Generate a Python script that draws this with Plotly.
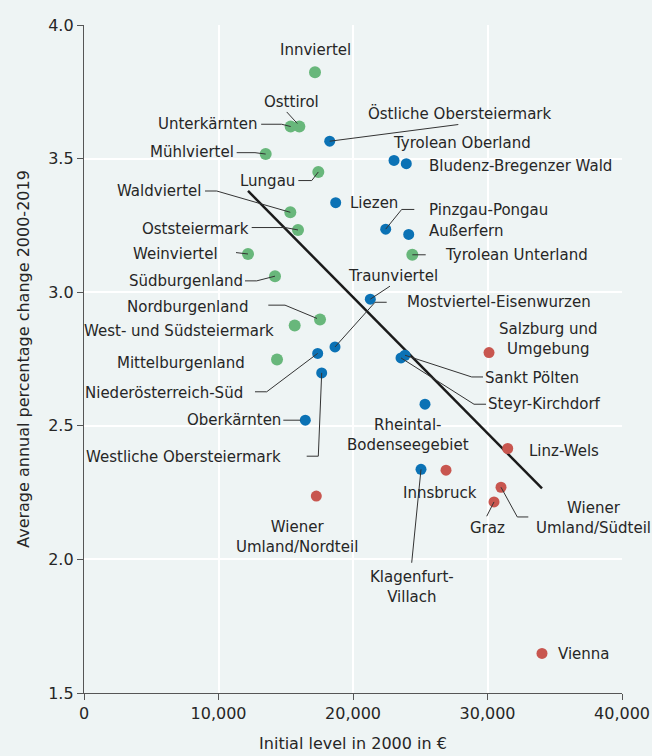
import plotly.graph_objects as go

# ---------------- data ----------------
regions = [
    "Innviertel", "Osttirol", "Unterkärnten", "Mühlviertel", "Lungau", "Waldviertel",
    "Oststeiermark", "Weinviertel", "Südburgenland", "Nordburgenland",
    "West- und Südsteiermark", "Mittelburgenland", "Tyrolean Unterland",
    "Östliche Obersteiermark", "Tyrolean Oberland", "Bludenz-Bregenzer Wald", "Liezen",
    "Pinzgau-Pongau", "Außerfern", "Traunviertel", "Mostviertel-Eisenwurzen",
    "Niederösterreich-Süd", "Westliche Obersteiermark", "Oberkärnten", "Sankt Pölten",
    "Steyr-Kirchdorf", "Rheintal-Bodenseegebiet", "Klagenfurt-Villach",
    "Salzburg und Umgebung", "Linz-Wels", "Innsbruck", "Wiener Umland/Südteil", "Graz",
    "Wiener Umland/Nordteil", "Vienna",
]
initial_level = [
    17175, 16010, 15366, 13508, 17422, 15340,
    15911, 12193, 14201, 17547,
    15665, 14350, 24410,
    18268, 23049, 23963, 18714,
    22431, 24141, 21287, 18662,
    17375, 17673, 16454, 23866,
    23569, 25353, 25056,
    30112, 31502, 26915, 31004, 30484,
    17272, 34052,
]
growth = [
    3.823, 3.620, 3.620, 3.517, 3.450, 3.299,
    3.233, 3.143, 3.060, 2.898,
    2.875, 2.748, 3.140,
    3.565, 3.493, 3.481, 3.335,
    3.236, 3.216, 2.974, 2.795,
    2.771, 2.698, 2.521, 2.764,
    2.754, 2.581, 2.337,
    2.774, 2.415, 2.334, 2.270, 2.215,
    2.237, 1.648,
]
group = (["rural"] * 13) + (["intermediate"] * 15) + (["urban"] * 7)

trend_x = [12193, 34052]
trend_y = [3.379, 2.266]

x_ticks = [0, 10000, 20000, 30000, 40000]
y_ticks = [1.5, 2.0, 2.5, 3.0, 3.5, 4.0]

# ---------------- styles ----------------
colors = {"rural": "#68b77b", "intermediate": "#0b72b5", "urban": "#c8564f"}
sizes = {"rural": 12, "intermediate": 11, "urban": 11}
BG = "#eef4f4"
TXT = "#262626"
FONT = "DejaVu Sans"

# label placement: (xanchor, dx, dy, leader polyline in screen px offsets from the point)
label_layout = {
    "Innviertel": ("center", 0, -22, None),
    "Osttirol": ("center", -8, -25, [(-12.6, -14.6), (-2, -3)]),
    "Unterkärnten": ("right", -31.4, -2.3, [(-29.5, -2.3), (-9, -2.3), (0, 0)]),
    "Mühlviertel": ("right", -29.7, -1.7, [(-29, -1.4), (-10.7, -1.4), (0, 0)]),
    "Lungau": ("right", -21.6, 8.6, [(-20, 8.6), (-6.6, 8.6), (0, 0)]),
    "Waldviertel": ("right", -87, -21.3, [(-85.3, -21.3), (-73.6, -21.3), (0, 0)]),
    "Oststeiermark": ("right", -47.3, -1, [(-46.3, -2.4), (-13, -2.4), (0, 0)]),
    "Weinviertel": ("right", -28, 0, [(-12, -1.4), (0, 0)]),
    "Südburgenland": ("right", -30, 4.7, [(-30, 4.7), (-18.3, 4.7), (0, 0)]),
    "Nordburgenland": ("right", -70, -12.6, [(-51.7, -14.3), (-35, -14.3), (-3, -1)]),
    "West- und Südsteiermark": ("right", -18.7, 5.4, None),
    "Mittelburgenland": ("right", -29.7, 3.4, None),
    "Tyrolean Unterland": ("left", 31, 0.3, [(0, 0), (13.4, 0)]),
    "Östliche Obersteiermark": ("left", 36, -27.7, [(128.6, -16.7), (0, 0)]),
    "Tyrolean Oberland": ("left", -3, -17.6, None),
    "Bludenz-Bregenzer Wald": ("left", 20.4, 2.4, None),
    "Liezen": ("left", 12.6, 0, None),
    "Pinzgau-Pongau": ("left", 41, -19, [(28.6, -19.7), (16, -19.7), (0, 0)]),
    "Außerfern": ("left", 18, -3.3, None),
    "Traunviertel": ("left", -24.3, -23, [(19.7, -13), (0, 0)]),
    "Mostviertel-Eisenwurzen": ("left", 70, -44.7, [(51.7, -44.7), (40, -44.7), (0, 0)]),
    "Niederösterreich-Süd": ("right", -72.4, 39.4, [(-62.7, 38.4), (-51, 38.4), (0, 0)]),
    "Westliche Obersteiermark": ("right", -38.4, 84.6, [(-15, 83.3), (-3.4, 83.3), (0, 0)]),
    "Oberkärnten": ("right", -22.6, 0.3, [(-22, 0), (-5, 0)]),
    "Sankt Pölten": ("left", 78.3, 22.7, [(78, 21.7), (66.7, 21.7), (0, 0)]),
    "Steyr-Kirchdorf": ("left", 85, 46.3, [(85, 46.3), (73, 46.3), (0, 0)]),
    "Rheintal-Bodenseegebiet": ("center", -17.3, 31.3, None),
    "Klagenfurt-Villach": ("center", -9.3, 117.2, [(-9.3, 93.4), (0, 0)]),
    "Salzburg und Umgebung": ("center", 59.3, -13.6, None),
    "Linz-Wels": ("left", 19, 2.4, None),
    "Innsbruck": ("center", -6, 23.3, None),
    "Wiener Umland/Südteil": ("center", 92, 30.8, [(27.3, 29.7), (16.3, 29.7), (0, 0)]),
    "Graz": ("center", -7, 25.6, [(-7.3, 14.3), (0, 0)]),
    "Wiener Umland/Nordteil": ("center", -19.8, 40.7, None),
    "Vienna": ("left", 14, 0.7, None),
}
display_text = {
    "Rheintal-Bodenseegebiet": "Rheintal-<br>Bodenseegebiet",
    "Klagenfurt-Villach": "Klagenfurt-<br>Villach",
    "Salzburg und Umgebung": "Salzburg und<br>Umgebung",
    "Wiener Umland/Südteil": "Wiener<br>Umland/Südteil",
    "Wiener Umland/Nordteil": "Wiener<br>Umland/Nordteil",
}

fig = go.Figure()

# trend line
fig.add_trace(go.Scatter(x=trend_x, y=trend_y, mode="lines",
                         line=dict(color="#1a1a1a", width=2.5), hoverinfo="skip",
                         showlegend=False))

# points per group
for g in ["rural", "intermediate", "urban"]:
    xs = [x for x, gg in zip(initial_level, group) if gg == g]
    ys = [y for y, gg in zip(growth, group) if gg == g]
    ns = [n for n, gg in zip(regions, group) if gg == g]
    fig.add_trace(go.Scatter(x=xs, y=ys, mode="markers", text=ns,
                             marker=dict(color=colors[g], size=sizes[g], line=dict(width=0)),
                             showlegend=False))

annotations = []
shapes = []
for name, xv, yv in zip(regions, initial_level, growth):
    xa, dx, dy, leader = label_layout[name]
    annotations.append(dict(
        x=xv, y=yv, xref="x", yref="y", text=display_text.get(name, name),
        showarrow=False, xanchor=xa, yanchor="middle", xshift=dx, yshift=-dy,
        font=dict(family=FONT, size=15, color=TXT),
    ))
    if leader:
        path = "M " + " L ".join(f"{px},{-py}" for px, py in leader)
        shapes.append(dict(type="path", xref="x", yref="y", xsizemode="pixel",
                           ysizemode="pixel", xanchor=xv, yanchor=yv, path=path,
                           line=dict(color="#333333", width=1), layer="above"))

fig.update_layout(
    width=652, height=756,
    margin=dict(l=84, r=30, t=25, b=63),
    paper_bgcolor=BG, plot_bgcolor=BG,
    font=dict(family=FONT, color=TXT, size=16),
    annotations=annotations, shapes=shapes,
    showlegend=False,
)
fig.update_xaxes(range=[0, 40000], tickvals=x_ticks, tickformat=",", automargin=False,
                 showgrid=True, gridcolor="white", gridwidth=1.5, zeroline=False,
                 showline=True, linecolor="#555555", linewidth=1.3,
                 ticks="outside", ticklen=6, tickcolor="#555555",
                 tickfont=dict(size=16, color=TXT),
                 title=dict(text="Initial level in 2000 in €", font=dict(size=16, color=TXT), standoff=15))
fig.update_yaxes(range=[1.5, 4.0], tickvals=y_ticks, tickformat=".1f", automargin=False,
                 showgrid=True, gridcolor="white", gridwidth=1.5, zeroline=False,
                 showline=True, linecolor="#555555", linewidth=1.3,
                 ticks="outside", ticklen=6, tickcolor="#555555",
                 tickfont=dict(size=16, color=TXT),
                 title=dict(text="Average annual percentage change 2000-2019",
                            font=dict(size=16, color=TXT), standoff=14))

fig.write_html("out.html", config={"displayModeBar": False},
               post_script="document.body.style.margin='0';"
                           "document.body.style.background='" + BG + "';")
